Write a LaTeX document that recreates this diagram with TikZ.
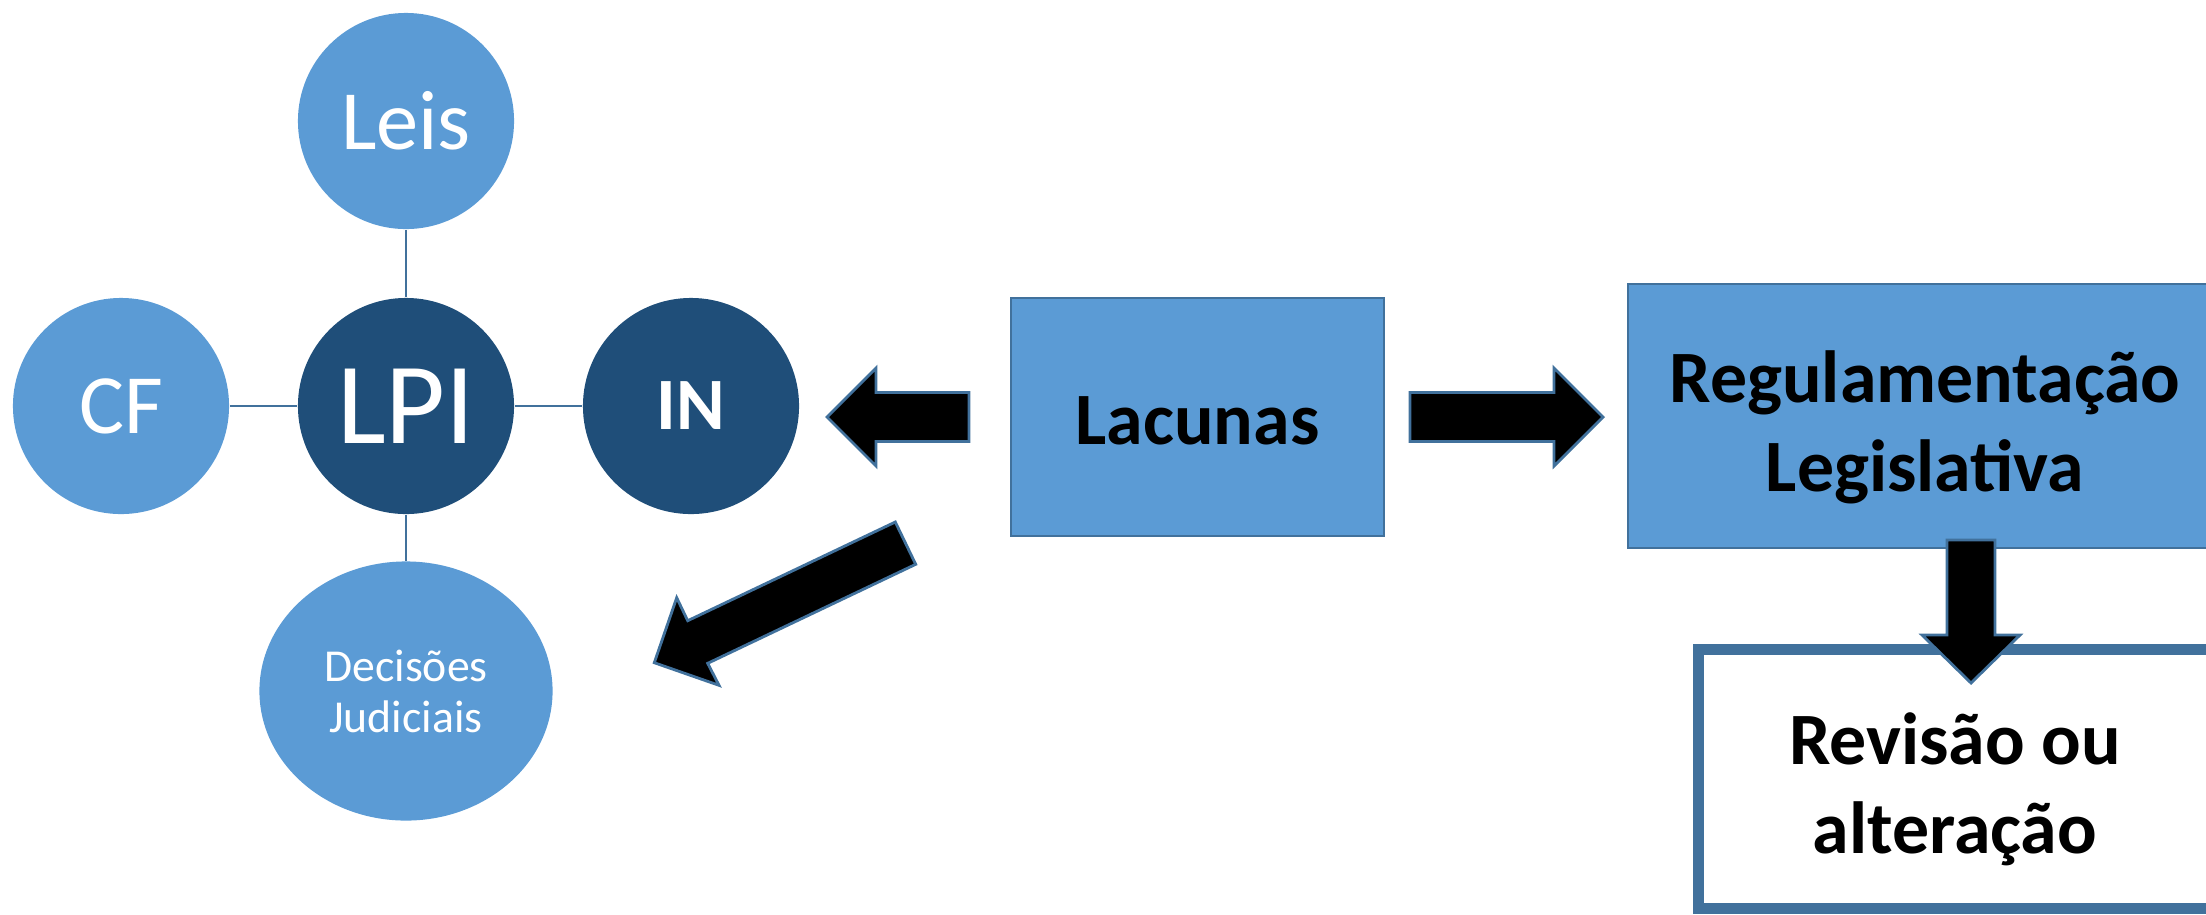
\documentclass[tikz,border=0pt]{standalone}
\usepackage{fontspec}
\setmainfont{Carlito}
\usepackage{tikz}
\usetikzlibrary{shapes.geometric}

\definecolor{azulclaro}{HTML}{5B9BD5}
\definecolor{azulescuro}{HTML}{1F4E79}
\definecolor{borda}{HTML}{41719C}

% lowers a line of text without changing the size of its box
\newcommand{\desce}[2][0.11cm]{\raisebox{-#1}[\height][\depth]{#2}}

\tikzset{
  bola/.style={circle, fill=azulclaro, text=white, minimum size=2.16cm, inner sep=0pt},
  bolaescura/.style={bola, fill=azulescuro},
  caixa/.style={rectangle, draw=borda, line width=0.7pt, fill=azulclaro, inner sep=0pt,
    align=center, font=\fontsize{21}{25.3}\selectfont\bfseries},
  ligacao/.style={draw=borda, line width=0.6pt},
  seta/.style={draw=borda, line width=0.8pt, fill=black, line join=miter}
}

\begin{document}
\begin{tikzpicture}[x=0.01cm, y=-0.01cm]
\useasboundingbox (0,0) rectangle (2206,914);
\clip (0,0) rectangle (2206,914);

% LPI and the sources around it
\path
(406,406) node[bolaescura, font=\fontsize{33}{40}\selectfont](lpi) {LPI}
(406,121) node[bola, font=\fontsize{24}{29}\selectfont](leis) {Leis}
(121,406) node[bola, font=\fontsize{24}{29}\selectfont](cf) {CF}
(691,406) node[bolaescura, font=\fontsize{21}{25}\selectfont\bfseries](in) {IN}
(406,691) node[ellipse, fill=azulclaro, text=white, minimum width=2.93cm, minimum height=2.59cm,
  inner sep=0pt, align=center, font=\fontsize{13}{14.5}\selectfont](decisoes) {Decisões\\Judiciais};

\draw[ligacao] (leis) -- (lpi);
\draw[ligacao] (cf) -- (lpi);
\draw[ligacao] (lpi) -- (in);
\draw[ligacao] (lpi) -- (decisoes);

%% boxes
\path
(1197.5,417) node[caixa, minimum width=3.73cm, minimum height=2.38cm](lacunas) {\desce[0.04cm]{Lacunas}}
(1925,416) node[caixa, minimum width=5.94cm, minimum height=2.635cm](regulamentacao) {\desce{Regulamentação}\\\desce{Legislativa}}
(1955,779) node[caixa, fill=white, line width=3.1pt, minimum width=5.12cm, minimum height=2.58cm](revisao) {\desce[0.1cm]{Revisão ou}\\\desce[0.1cm]{alteração}};

%% block arrows
\draw[seta] (827,417) -- (876,368) -- (876,392.5) -- (969,392.5) -- (969,441.5) -- (876,441.5) -- (876,466) -- cycle;
\draw[seta] (1603,417) -- (1554,368) -- (1554,392.5) -- (1410,392.5) -- (1410,441.5) -- (1554,441.5) -- (1554,466) -- cycle;
\draw[seta] (1971,683) -- (1922,635) -- (1947,635) -- (1947,540) -- (1995,540) -- (1995,635) -- (2020,635) -- cycle;
\draw[seta] (654.3,662.7) -- (676.7,597.7) -- (687.7,620.7) -- (895.3,522) -- (915.7,564.3) -- (707.7,663.3) -- (719,685.3) -- cycle;

\end{tikzpicture}
\end{document}
